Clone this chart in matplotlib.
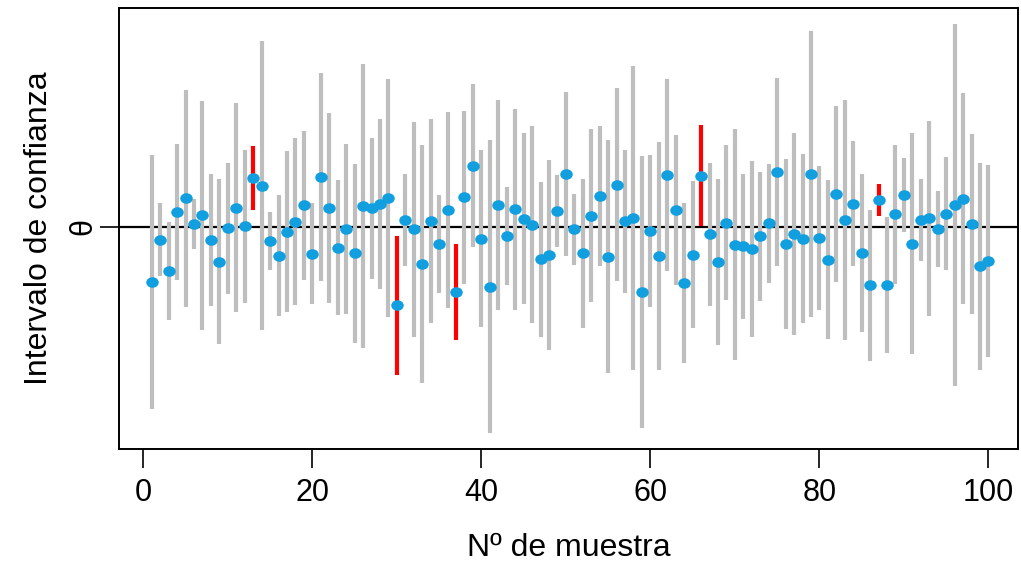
import matplotlib
matplotlib.use("Agg")
import matplotlib.pyplot as plt
from matplotlib.path import Path
from matplotlib.transforms import Affine2D
import numpy as np

theta = 0.0
muestra = list(range(1, 101))
estimacion = [
    -5.59, -1.34, -4.47, 1.50, 2.82, 0.25, 1.11, -1.37, -3.54, -0.17,
    1.90, 0.03, 4.88, 4.11, -1.49, -2.92, -0.51, 0.48, 2.13, -2.72,
    4.95, 1.87, -2.12, -0.29, -2.67, 2.03, 1.82, 2.28, 2.87, -7.94,
    0.63, -0.29, -3.79, 0.55, -1.76, 1.70, -6.57, 2.96, 6.13, -1.21,
    -6.04, 2.16, -0.96, 1.72, 0.78, 0.20, -3.30, -2.86, 1.55, 5.28,
    -0.29, -2.67, 1.08, 3.05, -3.06, 4.22, 0.53, 0.86, -6.57, -0.46,
    -2.95, 5.20, 1.70, -5.67, -2.82, 5.12, -0.76, -3.56, 0.40, -1.84,
    -1.97, -2.26, -1.00, 0.33, 5.47, -1.76, -0.77, -1.24, 5.28, -1.19,
    -3.34, 3.30, 0.67, 2.28, -2.66, -5.92, 2.66, -5.84, 1.23, 3.18,
    -1.71, 0.62, 0.83, -0.26, 1.30, 2.17, 2.80, 0.28, -3.99, -3.47,
]
semiancho = [
    12.75, 3.67, 4.97, 6.84, 10.92, 2.49, 11.55, 6.63, 8.30, 6.57,
    10.50, 7.70, 3.22, 14.55, 2.92, 6.08, 8.07, 8.42, 7.47, 5.12,
    10.45, 9.54, 6.78, 8.55, 9.00, 14.30, 7.09, 8.55, 11.97, 7.00,
    4.63, 10.79, 11.95, 10.29, 4.92, 9.87, 4.83, 8.70, 8.20, 8.87,
    14.70, 10.60, 4.89, 10.12, 8.62, 9.87, 7.80, 9.59, 3.62, 8.28,
    3.55, 7.50, 8.68, 7.05, 11.72, 9.72, 7.20, 15.30, 13.67, 7.62,
    11.45, 9.64, 7.54, 8.07, 7.42, 5.08, 7.19, 8.39, 7.84, 11.60,
    7.30, 8.82, 6.50, 6.00, 9.47, 8.59, 10.17, 8.50, 14.38, 7.25,
    8.00, 8.87, 12.07, 6.28, 7.92, 7.58, 1.60, 6.84, 7.00, 3.75,
    11.14, 4.12, 9.83, 3.82, 5.70, 18.17, 10.64, 9.05, 10.42, 9.63,
]
xticks = [0, 20, 40, 60, 80, 100]

x = np.array(muestra)
est = np.array(estimacion)
hw = np.array(semiancho)
lo = est - hw
hi = est + hw
cubre = (lo <= theta) & (hi >= theta)

plt.rcParams['font.family'] = ['Liberation Sans', 'DejaVu Sans']
fig = plt.figure(figsize=(10.21, 5.65), dpi=100)
ax = fig.add_axes([119/1021, 1 - 449/565, (1018-119)/1021, (449-8)/565])

ellipse = Path.unit_circle().transformed(Affine2D().scale(1.18, 1.0))

ax.axhline(theta, color='black', lw=1.6, zorder=1)
ax.vlines(x[cubre], lo[cubre], hi[cubre], colors='#BEBEBE', lw=3.0, zorder=2)
ax.vlines(x[~cubre], lo[~cubre], hi[~cubre], colors='#FF0000', lw=3.0, zorder=3)
ax.plot(x, est, linestyle='none', marker=ellipse, color='#129FE0', ms=9.0,
        mec='none', zorder=4)

ax.set_xlim(-2.88, 103.5)
yr = hi.max() - lo.min()
ax.set_ylim(lo.min() - 0.04 * yr, hi.max() + 0.04 * yr)

ax.set_xticks(xticks)
ax.set_xticklabels([str(t) for t in xticks], fontsize=22)
ax.set_yticks([theta])
ax.set_yticklabels(['θ'], fontsize=22, rotation=90, va='center')
ax.tick_params(axis='both', length=14, width=1.2, color='black')
ax.tick_params(axis='x', pad=7)
ax.tick_params(axis='y', pad=1)
for s in ax.spines.values():
    s.set_linewidth(1.4)

ax.set_xlabel('Nº de muestra', fontsize=23, labelpad=18)
ax.set_ylabel('Intervalo de confianza', fontsize=23, labelpad=10)

fig.savefig('out.png', dpi=100)
